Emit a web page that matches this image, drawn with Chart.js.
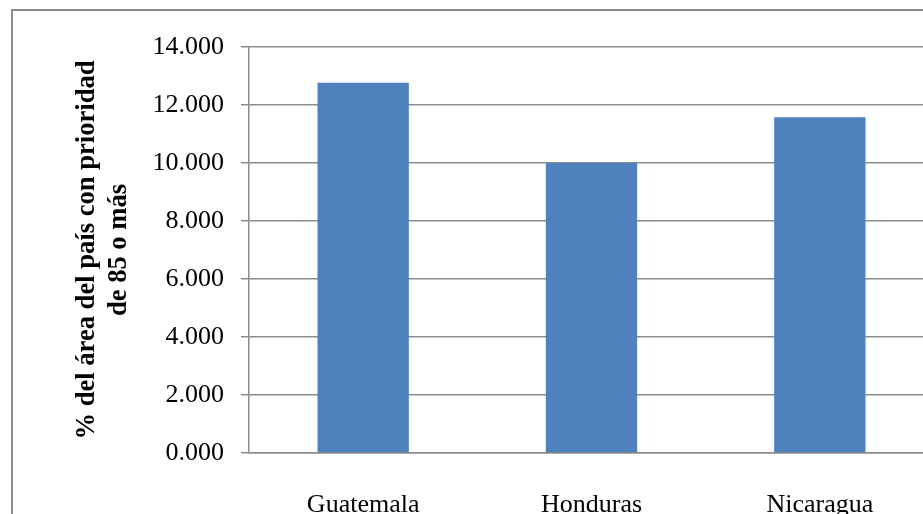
<!DOCTYPE html>
<html>
<head>
<meta charset="utf-8">
<script src="https://cdn.jsdelivr.net/npm/chart.js@4"></script>
<style>
  html, body { margin: 0; padding: 0; background: #fff; overflow: hidden; width: 923px; height: 514px; }
  #frame { position: absolute; left: 11px; top: 9px; border: 2px solid #8c8c8c; width: 940px; height: 520px; }
  #chart { display: block; }
</style>
</head>
<body>
<div id="frame"><canvas id="chart" width="940" height="520"></canvas></div>
<script>
// Share of each country's area with priority 85 or higher
const countries = ['Guatemala', 'Honduras', 'Nicaragua'];
const areaShare = [12.77, 10.0, 11.58];
const yTicks = [0, 2, 4, 6, 8, 10, 12, 14];
const axisTitle = ['% del área del país con prioridad', 'de 85 o más'];

const gridGray = '#8c8c8c';
const serif = "'Liberation Serif', 'Times New Roman', serif";

new Chart(document.getElementById('chart'), {
  type: 'bar',
  data: {
    labels: countries,
    datasets: [{
      data: areaShare,
      backgroundColor: '#4f81bd',
      borderWidth: 0,
      barPercentage: 0.4,
      categoryPercentage: 1.0
    }]
  },
  options: {
    responsive: false,
    animation: false,
    layout: { padding: { top: 36, right: 19, bottom: 0, left: 0 } },
    plugins: { legend: { display: false }, tooltip: { enabled: false } },
    scales: {
      x: {
        grid: { display: false },
        border: { display: true, color: gridGray, width: 1.5 },
        ticks: { color: '#000', font: { family: serif, size: 26 }, padding: 29, maxRotation: 0 },
        afterFit: s => { s.height = 78; }
      },
      y: {
        min: 0,
        max: 14,
        afterBuildTicks: s => { s.ticks = yTicks.map(v => ({ value: v })); },
        grid: { color: gridGray, lineWidth: 1.5, tickLength: 8 },
        border: { display: true, color: gridGray, width: 1.5 },
        ticks: {
          color: '#000',
          font: { family: serif, size: 26 },
          padding: 17,
          callback: v => Number(v).toFixed(3)
        },
        title: {
          display: true,
          text: axisTitle,
          color: '#000',
          font: { family: serif, size: 26.6, weight: 'bold', lineHeight: 1.17 },
          padding: { top: 59, bottom: 0 }
        },
        afterFit: s => { s.width = 236; }
      }
    }
  }
});
</script>
</body>
</html>
